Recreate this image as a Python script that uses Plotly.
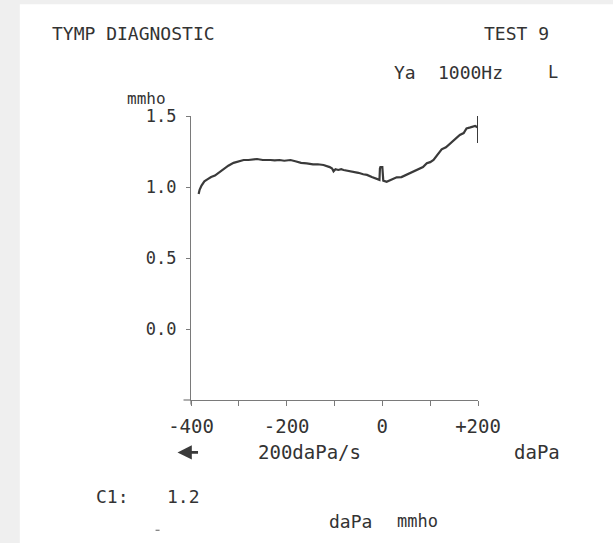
import plotly.graph_objects as go

# ---- data ----
pressure_daPa = [-384, -382, -378, -372, -365, -358, -350, -342, -332, -322, -311, -300,
                 -290, -280, -270, -262, -250, -240, -234, -225, -215, -205, -192, -180,
                 -170, -158, -145, -135, -123, -110, -105, -102, -98, -92, -86, -81, -72,
                 -60, -50, -40, -32, -22, -11, -6, -5, -4, 0, 1, 2, 9, 18, 30, 40, 50,
                 58, 65, 75, 85, 93, 100, 107, 116, 124, 133, 142, 150, 157, 162, 170,
                 176, 184, 190, 194, 199]
admittance_mmho = [0.95, 0.98, 1.01, 1.04, 1.055, 1.07, 1.08, 1.10, 1.13, 1.15, 1.17, 1.18,
                   1.19, 1.19, 1.195, 1.197, 1.19, 1.193, 1.19, 1.188, 1.19, 1.185, 1.19, 1.18,
                   1.17, 1.167, 1.16, 1.16, 1.155, 1.14, 1.13, 1.11, 1.125, 1.12, 1.125, 1.12,
                   1.115, 1.11, 1.10, 1.09, 1.085, 1.07, 1.055, 1.05, 1.13, 1.14, 1.14, 1.05,
                   1.045, 1.037, 1.05, 1.068, 1.07, 1.085, 1.10, 1.108, 1.12, 1.14, 1.167,
                   1.175, 1.19, 1.23, 1.265, 1.28, 1.308, 1.33, 1.35, 1.366, 1.38, 1.413,
                   1.42, 1.425, 1.43, 1.42]
end_marker_x = [200, 200]
end_marker_y = [1.31, 1.51]

x_tick_vals = [-400, -300, -200, -100, 0, 100, 200]
x_tick_text = ["-400", "", "-200", "", "0", "", "+200"]
y_tick_vals = [0.0, 0.5, 1.0, 1.5]
y_tick_text = ["0.0", "0.5", "1.0", "1.5"]

# ---- layout geometry (pixels) ----
W, H = 613, 543
L, R, T, B = 190.5, 478, 116, 400.5
MONO = "DejaVu Sans Mono"
INK = "#333333"
AXIS = "#7a7a7a"


def fx(px):
    return (px - L) / (R - L)


def fy(py):
    return (B - py) / (B - T)


fig = go.Figure()
fig.add_trace(go.Scatter(x=pressure_daPa, y=admittance_mmho, mode="lines",
                         line=dict(color="#3a3a3a", width=2.2), showlegend=False,
                         hoverinfo="skip"))
fig.add_trace(go.Scatter(x=end_marker_x, y=end_marker_y, mode="lines",
                         line=dict(color="#3a3a3a", width=2), showlegend=False,
                         hoverinfo="skip"))

annos = [
    ("TYMP DIAGNOSTIC", 49, 33, "left", 18),
    ("TEST 9", 551, 33, "right", 18),
    ("Ya", 392, 72, "left", 18),
    ("1000Hz", 436, 72, "left", 18),
    ("L", 553, 72, "center", 17),
    ("mmho", 124, 98, "left", 16),
    ("200daPa/s", 256, 453, "left", 19),
    ("daPa", 512, 453, "left", 19),
    ("C1:", 93, 497, "left", 18),
    ("1.2", 164, 497, "left", 18),
    ("daPa", 327, 522, "left", 18),
    ("mmho", 395, 522, "left", 17),
]
annotations = []
for text, px, py, anchor, size in annos:
    annotations.append(dict(text=text, x=fx(px), y=fy(py), xref="paper", yref="paper",
                            xanchor=anchor, yanchor="middle", showarrow=False,
                            font=dict(family=MONO, size=size, color=INK)))
# left-pointing arrow (direction of the pressure sweep)
annotations.append(dict(text="", x=fx(177), y=fy(453), xref="paper", yref="paper",
                        showarrow=True, ax=22, ay=0, arrowhead=2, arrowsize=1.1,
                        arrowwidth=2.6, arrowcolor="#3a3a3a"))

shapes = [
    # white sheet over grey scan background
    dict(type="rect", xref="paper", yref="paper", x0=fx(19), x1=fx(W + 5),
         y0=fy(H + 5), y1=fy(4), fillcolor="#ffffff", line=dict(width=0), layer="below"),
    # short extension of the baseline left of the vertical axis
    dict(type="line", xref="paper", yref="paper", x0=fx(183), x1=fx(L),
         y0=0, y1=0, line=dict(color=AXIS, width=1.2)),
    dict(type="line", xref="paper", yref="paper", x0=0, x1=0,
         y0=fy(405), y1=0, line=dict(color=AXIS, width=1.2)),
    # small dash near bottom
    dict(type="line", xref="paper", yref="paper", x0=fx(155), x1=fx(159),
         y0=fy(531), y1=fy(531), line=dict(color="#777777", width=1.2)),
]

fig.update_layout(
    width=W, height=H,
    margin=dict(l=L, r=W - R, t=T, b=H - B, pad=0),
    paper_bgcolor="#efefef", plot_bgcolor="rgba(0,0,0,0)",
    annotations=annotations, shapes=shapes,
    xaxis=dict(range=[-400, 200], tickmode="array", tickvals=x_tick_vals,
               ticktext=x_tick_text, ticks="outside", ticklen=5, tickwidth=1.2,
               tickcolor=AXIS, showline=True, linecolor=AXIS, linewidth=1.2,
               showgrid=False, zeroline=False, ticklabelstandoff=4,
               tickfont=dict(family=MONO, size=19, color=INK), fixedrange=True),
    yaxis=dict(range=[-0.5, 1.5], tickmode="array", tickvals=y_tick_vals,
               ticktext=y_tick_text, ticks="outside", ticklen=4, tickwidth=1.2,
               tickcolor=AXIS, showline=True, linecolor=AXIS, linewidth=1.2,
               showgrid=False, zeroline=False, ticklabelstandoff=6,
               tickfont=dict(family=MONO, size=17, color=INK), fixedrange=True),
)

fig.write_html("out.html", config={"displayModeBar": False})
